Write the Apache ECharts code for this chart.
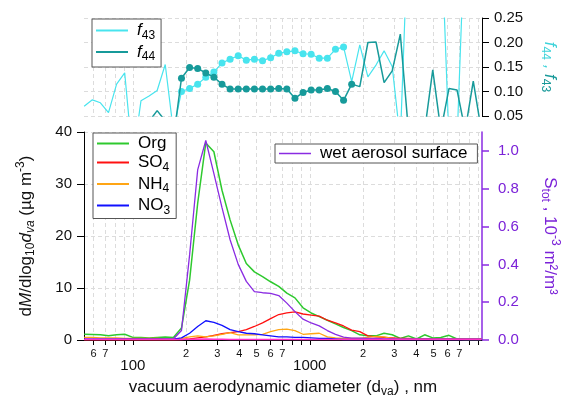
<!DOCTYPE html>
<html><head><meta charset="utf-8">
<script src="https://cdn.jsdelivr.net/npm/echarts@6/dist/echarts.min.js"></script>
<style>html,body{margin:0;padding:0;background:#fff}#c{width:561px;height:396px}</style>
</head><body><div id="c"></div>
<script>
// ---- data ----
const diam = [53.1, 59.1, 65.6, 72.9, 81.0, 90.0, 100.0, 111.2, 123.6, 137.3, 152.5, 169.5,
  188.4, 209.4, 232.6, 258.5, 287.2, 319.2, 354.6, 394.1, 437.9, 486.6, 540.8, 600.9, 667.7, 742.0,
  824.5, 916.2, 1018, 1131, 1257, 1397, 1552, 1725, 1917, 2130, 2367, 2630, 2923, 3248, 3609, 4011,
  4457, 4953, 5504, 6116, 6796, 7551, 8391, 9324];
const org = [1.1, 1.05, 1.0, 0.8, 1.0, 1.1, 0.5, 0.5, 0.4, 0.5, 0.6, 0.5,
  2.3, 11.5, 26.3, 37.9, 36.2, 28.8, 23.1, 18.3, 14.7, 13.1, 12.2, 11.2, 10.3, 9.0, 8.1, 6.2, 5.2, 4.5,
  3.8, 3.1, 2.4, 1.8, 1.0, 0.8, 0.8, 1.3, 1.0, 0.3, 0.8, 0.2, 1.0, 0.4, 0.5, 0.9, 0.2, 0.1, 0.1, 0.1];
const so4 = [0.05, 0.05, 0.05, 0.05, 0.05, 0.05, 0.05, 0.05, 0.05, 0.05, 0.05, 0.05,
  0.1, 0.2, 0.4, 0.6, 0.9, 1.2, 1.4, 1.6, 2.0, 2.6, 3.3, 4.1, 4.9, 5.2, 5.4, 5.0, 4.8, 4.6,
  3.8, 3.3, 2.7, 1.9, 1.6, 0.8, 0.6, 0.5, 0.4, 0.3, 0.3, 0.2, 0.2, 0.2, 0.2, 0.2, 0.2, 0.2, 0.2, 0.2];
const nh4 = [0.5, 0.5, 0.4, 0.4, 0.4, 0.3, 0.3, 0.3, 0.3, 0.3, 0.2, 0.2,
  0.3, 0.6, 0.8, 0.6, 0.8, 1.1, 1.4, 1.0, 1.0, 1.0, 1.1, 1.6, 2.0, 2.1, 1.8, 1.1, 1.2, 1.3,
  0.6, 0.4, 0.3, 0.3, 0.3, 0.5, 0.7, 0.6, 0.3, 0.2, 0.2, 0.2, 0.2, 0.2, 0.2, 0.2, 0.2, 0.2, 0.2, 0.2];
const no3 = [0.15, 0.15, 0.15, 0.15, 0.15, 0.15, 0.15, 0.15, 0.15, 0.15, 0.15, 0.15,
  0.4, 1.3, 2.6, 3.7, 3.4, 2.8, 2.0, 1.6, 1.3, 1.2, 1.0, 0.8, 0.6, 0.6, 0.5, 0.5, 0.4, 0.3,
  0.3, 0.2, 0.1, 0.1, 0.1, 0.1, 0.1, 0.1, 0.1, 0.1, 0.1, 0.1, 0.1, 0.1, 0.1, 0.1, 0.1, 0.1, 0.1, 0.1];
const chl = [0.1, 0.1, 0.1, 0.1, 0.1, 0.1, 0.1, 0.1, 0.1, 0.1, 0.1, 0.1,
  0.1, 0.15, 0.15, 0.2, 0.15, 0.15, 0.1, 0.1, 0.1, 0.1, 0.1, 0.1, 0.1, 0.1, 0.1, 0.1, 0.1, 0.1,
  0.1, 0.1, 0.1, 0.1, 0.1, 0.1, 0.1, 0.1, 0.1, 0.1, 0.1, 0.1, 0.1, 0.1, 0.1, 0.1, 0.1, 0.1, 0.1, 0.1];
const wetSurface = [0.005, 0.005, 0.005, 0.005, 0.005, 0.005, 0.005, 0.005, 0.005, 0.005, 0.005, 0.005,
  0.05, 0.45, 0.90, 1.055, 0.88, 0.70, 0.53, 0.40, 0.31, 0.256, 0.250, 0.247, 0.235, 0.195, 0.150, 0.110,
  0.090, 0.075, 0.050, 0.030, 0.015, 0.010, 0.010, 0.008, 0.008, 0.006, 0.006, 0.005, 0.005, 0.005,
  0.005, 0.005, 0.005, 0.005, 0.005, 0.005, 0.005, 0.005];
const f43 = [0.070, 0.083, 0.077, 0.057, 0.115, 0.138, -0.04, 0.081, 0.091, 0.102, 0.155, 0.02,
  0.100, 0.106, 0.115, 0.129, 0.140, 0.158, 0.166, 0.173, 0.164, 0.166, 0.163, 0.169, 0.178, 0.181,
  0.183, 0.177, 0.176, 0.168, 0.168, 0.186, 0.191, 0.120, 0.195, 0.130, 0.154, 0.183, 0.151, 0.000,
  0.450, 0.500, 0.500, 0.500, 0.450, 0.000, 0.000, 0.450, 0.500, 0.500];
const f44 = [0.035, 0.030, 0.040, 0.032, 0.038, 0.030, 0.036, 0.033, 0.039, 0.061, 0.040, 0.002,
  0.127, 0.149, 0.147, 0.138, 0.129, 0.115, 0.105, 0.105, 0.105, 0.105, 0.105, 0.105, 0.106, 0.105,
  0.086, 0.098, 0.103, 0.103, 0.106, 0.100, 0.082, 0.115, 0.110, 0.200, 0.201, 0.118, 0.142, 0.217,
  0.020, 0.000, 0.020, 0.144, 0.020, 0.106, 0.103, 0.020, 0.121, 0.020];
const xTickValues = [60, 70, 80, 90, 100, 200, 300, 400, 500, 600, 700, 800, 900, 1000,
  2000, 3000, 4000, 5000, 6000, 7000, 8000, 9000];
const xLabelValues = [60, 70, 100, 200, 300, 400, 500, 600, 700, 1000, 2000, 3000, 4000, 5000, 6000, 7000];
const xMajorValues = [100, 1000];
const sTotTicks = [0, 0.2, 0.4, 0.6, 0.8, 1.0];

// ---- styling ----
const FONT = "'Liberation Sans', Arial, Helvetica, sans-serif";
const C43 = '#48e4ee', C44 = '#179a9a', CPUR = '#8a2be2', CPURT = '#7b22d8';
const GRIDLINE = {show: true, lineStyle: {color: '#dcdcdc', type: [4, 3], width: 1}};
function rich(color) {
  return {
    n: {fontFamily: FONT, fontSize: 17, lineHeight: 22, color},
    i: {fontFamily: FONT, fontSize: 17, lineHeight: 22, fontStyle: 'italic', color},
    sub: {fontFamily: FONT, fontSize: 12, lineHeight: 10, verticalAlign: 'bottom', color},
    subi: {fontFamily: FONT, fontSize: 12, lineHeight: 10, verticalAlign: 'bottom', fontStyle: 'italic', color},
    sup: {fontFamily: FONT, fontSize: 12, lineHeight: 10, verticalAlign: 'top', color}
  };
}
const legendLabels = {
  'f43': '{i|f}{sub|43}', 'f44': '{i|f}{sub|44}',
  'Org': '{n|Org}', 'SO4': '{n|SO}{sub|4}', 'NH4': '{n|NH}{sub|4}', 'NO3': '{n|NO}{sub|3}',
  'wet aerosol surface': '{n|wet aerosol surface}'
};
function legend(data, left, top, pad, iconH) {
  return {
    data, left, top, orient: 'vertical', padding: pad, itemGap: 2, itemWidth: 32, itemHeight: iconH,
    icon: 'rect',
    backgroundColor: '#fff', borderColor: '#555', borderWidth: 1, borderRadius: 0,
    selectedMode: false,
    formatter: name => legendLabels[name],
    textStyle: {padding: [0, 0, 0, 4], rich: rich('#000')}
  };
}
function pts(arr, markFrom, markTo) {
  return diam.map((d, i) => (markFrom != null && i >= markFrom && i <= markTo)
    ? {value: [d, arr[i]], symbol: 'circle', symbolSize: 7}
    : [d, arr[i]]);
}
function xLabel(v) {
  const r = Math.round(v);
  if (xMajorValues.includes(r)) return '{b|' + r + '}';
  const p = Math.pow(10, Math.floor(Math.log10(r) + 1e-9));
  return '{s|' + Math.round(r / p) + '}';
}
function line(name, arr, color, xi, yi, width, z) {
  return {name, type: 'line', xAxisIndex: xi, yAxisIndex: yi, data: pts(arr), symbol: 'none',
    color, lineStyle: {color, width}, z, silent: true};
}

const chart = echarts.init(document.getElementById('c'), null, {renderer: 'canvas'});
chart.setOption({
  animation: false,
  backgroundColor: '#fff',
  textStyle: {fontFamily: FONT},
  grid: [
    {left: 84, right: 79, top: 18, height: 98, containLabel: false, outerBoundsMode: 'none'},
    {left: 84, right: 79, top: 132, height: 208, containLabel: false, outerBoundsMode: 'none'}
  ],
  xAxis: [
    {type: 'log', gridIndex: 0, min: 53, max: 9400, logBase: 10,
      axisLine: {show: false}, axisTick: {show: false, customValues: xTickValues},
      axisLabel: {show: false}, splitLine: GRIDLINE},
    {type: 'log', gridIndex: 1, min: 53, max: 9400, logBase: 10,
      axisLine: {show: true, onZero: false, lineStyle: {color: '#000', width: 1}},
      axisTick: {show: true, inside: false, length: 5, customValues: xTickValues, lineStyle: {color: '#000'}},
      axisLabel: {show: true, customValues: xLabelValues, margin: 8, formatter: xLabel, color: '#111',
        rich: {s: {fontFamily: FONT, fontSize: 11, lineHeight: 12, color: '#111'},
               b: {fontFamily: FONT, fontSize: 15, lineHeight: 36, color: '#111'}}},
      splitLine: GRIDLINE,
      name: '{n|vacuum aerodynamic diameter (d}{sub|va}{n|) , nm}', nameLocation: 'middle', nameGap: 35,
      nameTextStyle: {rich: rich('#111')}}
  ],
  yAxis: [
    {type: 'value', gridIndex: 0, position: 'right', min: 0.05, max: 0.25, interval: 0.05,
      axisLine: {show: true, lineStyle: {color: '#000', width: 1}},
      axisTick: {show: true, inside: false, length: 7, lineStyle: {color: '#000'}},
      axisLabel: {margin: 12, fontSize: 15, color: '#111', fontFamily: FONT, formatter: v => v.toFixed(2)},
      splitLine: GRIDLINE,
      name: '{c|f}{cs|44}{c| , }{t|f}{ts|43}', nameLocation: 'middle', nameRotate: -90, nameGap: 57,
      nameTextStyle: {rich: {
        c: {fontFamily: FONT, fontSize: 17, lineHeight: 22, fontStyle: 'italic', color: '#3fd3da'},
        cs: {fontFamily: FONT, fontSize: 12, lineHeight: 10, verticalAlign: 'bottom', color: '#3fd3da'},
        t: {fontFamily: FONT, fontSize: 17, lineHeight: 22, fontStyle: 'italic', color: '#1a9a9a'},
        ts: {fontFamily: FONT, fontSize: 12, lineHeight: 10, verticalAlign: 'bottom', color: '#1a9a9a'}}}},
    {type: 'value', gridIndex: 1, position: 'left', min: 0, max: 40, interval: 10,
      axisLine: {show: true, onZero: false, lineStyle: {color: '#000', width: 1}},
      axisTick: {show: true, inside: false, length: 7, lineStyle: {color: '#000'}},
      axisLabel: {margin: 12, fontSize: 15, color: '#111', fontFamily: FONT},
      splitLine: GRIDLINE,
      name: '{n|d}{i|M}{n|/dlog}{sub|10}{i|d}{subi|va}{n| (µg m}{sup|-3}{n|)}',
      nameLocation: 'middle', nameGap: 47, nameTextStyle: {rich: rich('#111')}},
    {type: 'value', gridIndex: 1, position: 'right', min: 0, max: 1.1,
      axisLine: {show: true, onZero: false, lineStyle: {color: CPUR, width: 1.5}},
      axisTick: {show: true, inside: false, length: 7, customValues: sTotTicks, lineStyle: {color: CPUR, width: 1.5}},
      axisLabel: {margin: 16, fontSize: 15, color: CPURT, fontFamily: FONT, customValues: sTotTicks,
        formatter: v => v.toFixed(1)},
      splitLine: {show: false},
      name: '{n|S}{sub|tot}{n| , 10}{sup|-3}{n| m²/m³}', nameLocation: 'middle', nameRotate: -90, nameGap: 57,
      nameTextStyle: {rich: rich(CPURT)}}
  ],
  legend: [
    legend(['f43', 'f44'], 92, 19, [3, 6, 4, 4], 2),
    legend(['Org', 'SO4', 'NH4', 'NO3'], 93, 133, [2, 6, 2, 4], 2),
    legend(['wet aerosol surface'], 275, 144, [1, 10, 1, 4], 1.5)
  ],
  series: [
    {name: 'f43', type: 'line', xAxisIndex: 0, yAxisIndex: 0, data: pts(f43, 12, 32), symbol: 'none',
      showSymbol: true, color: C43, itemStyle: {color: C43}, lineStyle: {color: C43, width: 1.2}, z: 3, silent: true},
    {name: 'f44', type: 'line', xAxisIndex: 0, yAxisIndex: 0, data: pts(f44, 12, 33), symbol: 'none',
      showSymbol: true, color: C44, itemStyle: {color: C44}, lineStyle: {color: C44, width: 1.5}, z: 4, silent: true},
    line('Org', org, '#2ec92e', 1, 1, 1.5, 3),
    line('SO4', so4, '#ff1010', 1, 1, 1.3, 4),
    line('NH4', nh4, '#ffa514', 1, 1, 1.3, 4),
    line('NO3', no3, '#1010ff', 1, 1, 1.3, 4),
    line('wet aerosol surface', wetSurface, CPUR, 1, 2, 1.3, 5),
    line('Chl', chl, '#ff30c8', 1, 1, 1.5, 6)
  ]
});
</script>
</body></html>
